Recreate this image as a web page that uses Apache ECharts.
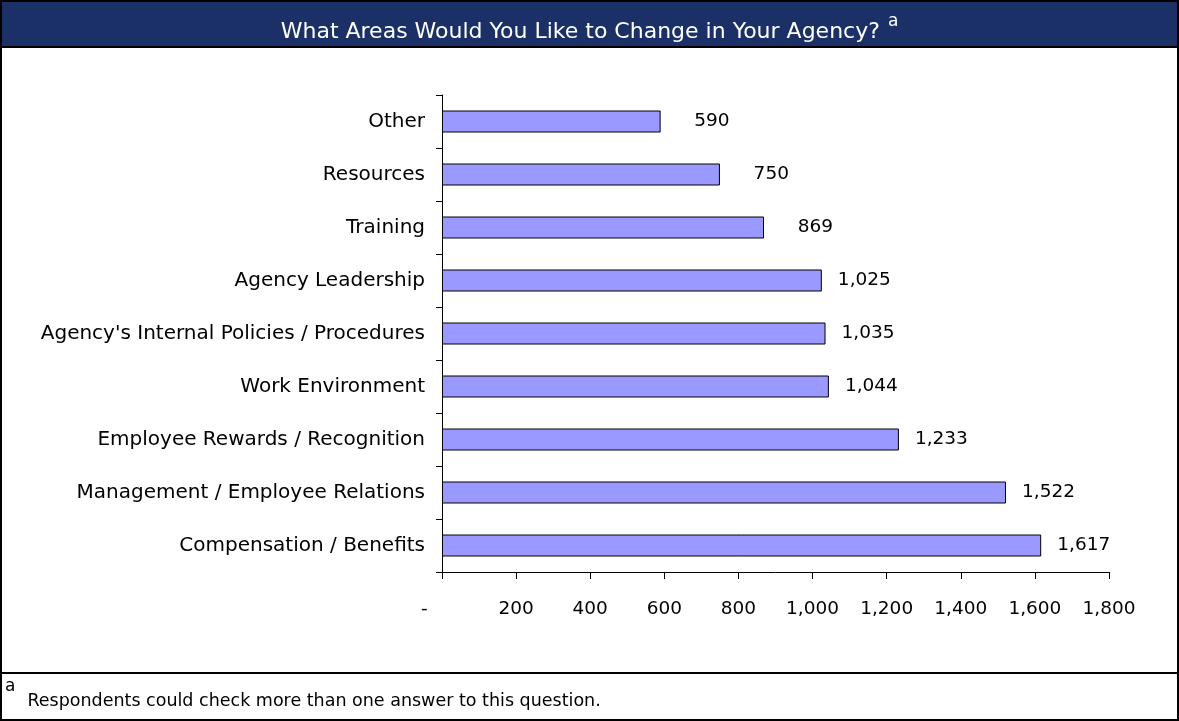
<!DOCTYPE html>
<html>
<head>
<meta charset="utf-8">
<script src="https://cdn.jsdelivr.net/npm/echarts@6/dist/echarts.min.js"></script>
<style>
  html, body { margin: 0; padding: 0; background: #fff; }
  #chart { width: 1179px; height: 721px; }
</style>
</head>
<body>
<div id="chart"></div>
<script>
// categories listed bottom -> top (category axis starts at the bottom)
const categories = [
  'Compensation / Benefits',
  'Management / Employee Relations',
  'Employee Rewards / Recognition',
  'Work Environment',
  "Agency's Internal Policies / Procedures",
  'Agency Leadership',
  'Training',
  'Resources',
  'Other'
];
const counts = [1617, 1522, 1233, 1044, 1035, 1025, 869, 750, 590];
const xTicks = [0, 200, 400, 600, 800, 1000, 1200, 1400, 1600, 1800];

const titleText = 'What Areas Would You Like to Change in Your Agency?';
const footnote = 'Respondents could check more than one answer to this question.';

const fontMain = '"DejaVu Sans", sans-serif';
const fmt = v => v.toLocaleString('en-US');

const chart = echarts.init(document.getElementById('chart'));

chart.setOption({
  animation: false,
  title: {
    text: '{t|' + titleText + '}{s|a}',
    left: 'center',
    top: 8,
    textStyle: {
      fontWeight: 'normal',
      rich: {
        t: { color: '#fff', fontSize: 22, fontWeight: 'normal', fontFamily: fontMain, verticalAlign: 'bottom', padding: [8, 0, 0, 0] },
        s: { color: '#fff', fontSize: 17, fontWeight: 'normal', fontFamily: fontMain, padding: [0, 0, 12, 8], verticalAlign: 'top' }
      }
    }
  },
  graphic: [
    { type: 'rect', z: -10, shape: { x: 1, y: 1, width: 1177, height: 719 }, style: { fill: '#fff', stroke: '#000', lineWidth: 2 } },
    { type: 'rect', z: -9, shape: { x: 1, y: 1, width: 1177, height: 46 }, style: { fill: '#1b3066', stroke: '#000', lineWidth: 2 } },
    { type: 'line', z: -9, shape: { x1: 0, y1: 673, x2: 1179, y2: 673 }, style: { stroke: '#000', lineWidth: 2 } },
    {
      type: 'text', left: 5, top: 678,
      style: {
        text: '{s|a}{f|' + footnote + '}',
        rich: {
          s: { fontSize: 17, fontFamily: fontMain, fill: '#000', verticalAlign: 'top', padding: [0, 0, 12, 0] },
          f: { fontSize: 17.5, fontFamily: fontMain, fill: '#000', padding: [14, 0, 0, 12] }
        }
      }
    }
  ],
  grid: { left: 442, right: 70, top: 95, bottom: 149, containLabel: false },
  xAxis: {
    type: 'value',
    min: xTicks[0],
    max: xTicks[xTicks.length - 1],
    interval: 200,
    axisLine: { show: true, lineStyle: { color: '#000', width: 1 } },
    axisTick: { show: true, length: 7, lineStyle: { color: '#000' } },
    splitLine: { show: false },
    axisLabel: {
      margin: 28,
      color: '#000',
      fontSize: 18.5,
      fontFamily: fontMain,
      formatter: v => v === 0 ? '-      ' : fmt(v)
    }
  },
  yAxis: {
    type: 'category',
    data: categories,
    axisLine: { show: true, lineStyle: { color: '#000', width: 1 } },
    axisTick: { show: true, length: 6, alignWithLabel: false, lineStyle: { color: '#000' } },
    axisLabel: { margin: 17, color: '#000', fontSize: 20, fontFamily: fontMain }
  },
  series: [{
    type: 'bar',
    data: counts,
    barWidth: 22,
    itemStyle: { color: '#9999ff', borderColor: '#000', borderWidth: 1 },
    label: {
      show: true,
      position: 'right',
      distance: 5,
      formatter: p => '{v|' + fmt(p.value) + '}',
      rich: {
        v: { width: 64, align: 'right', color: '#000', fontSize: 18.5, fontFamily: fontMain }
      }
    }
  }]
});
</script>
</body>
</html>
